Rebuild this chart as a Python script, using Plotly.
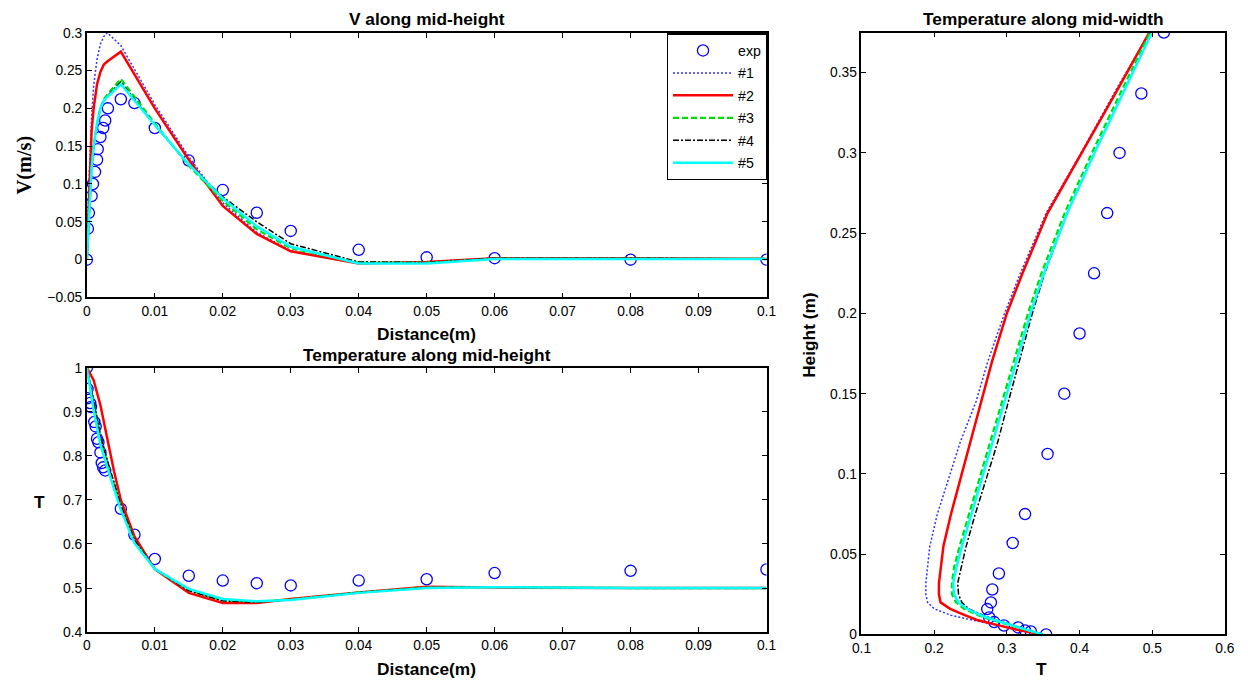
import plotly.graph_objects as go

# ---------------- data: V along mid-height ----------------
v_exp_x = [0, 0.00015, 0.0003, 0.0007, 0.0009, 0.0012, 0.0015, 0.0016, 0.002, 0.0024, 0.0027, 0.0031,
           0.005, 0.007, 0.01, 0.015, 0.02, 0.025, 0.03, 0.04, 0.05, 0.06, 0.08, 0.1]
v_exp_y = [0, 0.041, 0.062, 0.084, 0.100, 0.116, 0.132, 0.146, 0.162, 0.174, 0.184, 0.200,
           0.212, 0.207, 0.174, 0.131, 0.092, 0.062, 0.038, 0.013, 0.003, 0.002, 0.0, 0.0]
v_sim_x = [0, 0.0003, 0.0007, 0.001, 0.0015, 0.002, 0.0025, 0.003, 0.005, 0.01, 0.015, 0.02,
           0.025, 0.03, 0.04, 0.05, 0.06, 0.08, 0.1]
v_1 = [0, 0.10, 0.19, 0.23, 0.265, 0.285, 0.295, 0.300, 0.283, 0.205, 0.136, 0.075, 0.036, 0.012, -0.004, -0.003, 0.002, 0.002, 0.001]
v_2 = [0, 0.08, 0.17, 0.20, 0.232, 0.248, 0.258, 0.262, 0.275, 0.200, 0.132, 0.071, 0.034, 0.011, -0.005, -0.003, 0.002, 0.002, 0.001]
v_3 = [0, 0.06, 0.12, 0.15, 0.18, 0.20, 0.212, 0.218, 0.239, 0.180, 0.124, 0.078, 0.040, 0.015, -0.004, -0.004, 0.001, 0.001, 0.001]
v_4 = [0, 0.06, 0.12, 0.15, 0.18, 0.20, 0.210, 0.216, 0.235, 0.178, 0.126, 0.083, 0.050, 0.021, -0.003, -0.004, 0.002, 0.002, 0.001]
v_5 = [0, 0.06, 0.12, 0.15, 0.18, 0.20, 0.210, 0.215, 0.232, 0.178, 0.126, 0.081, 0.044, 0.017, -0.005, -0.005, 0.001, 0.001, 0.001]

# ---------------- data: Temperature along mid-height ----------------
t_exp_x = [0, 0.0001, 0.0001, 0.0005, 0.0006, 0.0011, 0.0013, 0.0015, 0.0017, 0.002, 0.0022, 0.0024, 0.0027,
           0.005, 0.007, 0.01, 0.015, 0.02, 0.025, 0.03, 0.04, 0.05, 0.06, 0.08, 0.1]
t_exp_y = [1.0, 0.952, 0.931, 0.920, 0.911, 0.877, 0.867, 0.839, 0.831, 0.808, 0.784, 0.774, 0.767,
           0.680, 0.621, 0.566, 0.528, 0.517, 0.511, 0.506, 0.517, 0.520, 0.534, 0.539, 0.542]
t_sim_x = [0, 0.001, 0.002, 0.003, 0.004, 0.005, 0.007, 0.01, 0.015, 0.02, 0.025, 0.03, 0.04, 0.05, 0.06, 0.08, 0.1]
t_1 = [1.0, 0.930, 0.850, 0.790, 0.740, 0.690, 0.610, 0.545, 0.495, 0.471, 0.468, 0.474, 0.490, 0.502, 0.502, 0.500, 0.500]
t_2 = [1.0, 0.972, 0.915, 0.840, 0.765, 0.700, 0.617, 0.543, 0.489, 0.466, 0.466, 0.475, 0.490, 0.503, 0.501, 0.500, 0.500]
t_3 = [1.0, 0.920, 0.840, 0.785, 0.735, 0.685, 0.607, 0.543, 0.495, 0.472, 0.469, 0.474, 0.490, 0.501, 0.502, 0.500, 0.500]
t_4 = [1.0, 0.925, 0.845, 0.790, 0.737, 0.688, 0.609, 0.543, 0.494, 0.471, 0.468, 0.474, 0.490, 0.501, 0.502, 0.500, 0.500]
t_5 = [1.0, 0.905, 0.825, 0.774, 0.725, 0.678, 0.602, 0.543, 0.498, 0.475, 0.470, 0.473, 0.489, 0.500, 0.502, 0.500, 0.500]

# ---------------- data: Temperature along mid-width ----------------
w_exp_t = [0.516, 0.485, 0.455, 0.438, 0.420, 0.400, 0.379, 0.356, 0.325, 0.308, 0.289, 0.280, 0.278,
           0.273, 0.2757, 0.2825, 0.296, 0.3155, 0.325, 0.333, 0.354]
w_exp_h = [0.375, 0.337, 0.300, 0.2625, 0.225, 0.1875, 0.150, 0.1125, 0.075, 0.057, 0.038, 0.028, 0.020,
           0.0158, 0.0106, 0.0077, 0.0056, 0.0044, 0.0025, 0.0019, 0.0]
w_sim_h = [0, 0.003, 0.006, 0.009, 0.012, 0.016, 0.02, 0.025, 0.032, 0.042, 0.055, 0.075, 0.1, 0.12,
           0.145, 0.17, 0.2, 0.225, 0.2625, 0.3, 0.34, 0.375]
w_1 = [0.349, 0.316, 0.283, 0.252, 0.223, 0.200, 0.191, 0.1885, 0.1885, 0.1905, 0.194, 0.2043, 0.222, 0.236,
       0.2575, 0.2737, 0.2968, 0.3185, 0.354, 0.402, 0.451, 0.496]
w_2 = [0.349, 0.314, 0.286, 0.259, 0.242, 0.222, 0.2088, 0.2065, 0.2066, 0.2092, 0.2127, 0.2231, 0.2378, 0.2496,
       0.2638, 0.2795, 0.2999, 0.3215, 0.356, 0.4035, 0.453, 0.496]
w_3 = [0.349, 0.325, 0.301, 0.279, 0.260, 0.241, 0.230, 0.2245, 0.2243, 0.2275, 0.235, 0.248, 0.264, 0.277,
       0.2935, 0.3095, 0.329, 0.3475, 0.3795, 0.417, 0.459, 0.497]
w_4 = [0.349, 0.328, 0.304, 0.285, 0.267, 0.2475, 0.238, 0.2335, 0.2323, 0.237, 0.244, 0.2565, 0.2735, 0.2875,
       0.302, 0.317, 0.335, 0.352, 0.383, 0.4205, 0.4625, 0.4995]
w_5 = [0.349, 0.326, 0.303, 0.283, 0.264, 0.245, 0.2335, 0.2273, 0.2262, 0.2305, 0.2382, 0.2512, 0.2675, 0.2805,
       0.297, 0.313, 0.3325, 0.351, 0.383, 0.4205, 0.4625, 0.4995]

names = ["#1", "#2", "#3", "#4", "#5"]

# ---------------- styles ----------------
FONT = "Liberation Sans, Arial, sans-serif"
styles = [
    dict(color="#3030ff", width=1.5, dash="2px,2px"),
    dict(color="#ff0000", width=2.5, dash="solid"),
    dict(color="#00dd00", width=2.2, dash="6px,3px"),
    dict(color="#000000", width=1.5, dash="6px,2px,2px,2px"),
    dict(color="#00ffff", width=2.5, dash="solid"),
]
marker = dict(symbol="circle-open", size=11.2, color="#0000ff", line=dict(width=1.3, color="#0000ff"))

fig = go.Figure()

# top-left
fig.add_trace(go.Scatter(x=v_exp_x, y=v_exp_y, mode="markers", marker=marker, name="exp",
                         xaxis="x", yaxis="y", legendgroup="g0"))
for i, ys in enumerate([v_1, v_2, v_3, v_4, v_5]):
    fig.add_trace(go.Scatter(x=v_sim_x, y=ys, mode="lines", line=styles[i], name=names[i],
                             xaxis="x", yaxis="y", legendgroup="g%d" % (i + 1)))
# bottom-left
fig.add_trace(go.Scatter(x=t_exp_x, y=t_exp_y, mode="markers", marker=marker, showlegend=False,
                         xaxis="x2", yaxis="y2"))
for i, ys in enumerate([t_1, t_2, t_3, t_4, t_5]):
    fig.add_trace(go.Scatter(x=t_sim_x, y=ys, mode="lines", line=styles[i], showlegend=False,
                             xaxis="x2", yaxis="y2"))
# right
fig.add_trace(go.Scatter(x=w_exp_t, y=w_exp_h, mode="markers", marker=marker, showlegend=False,
                         xaxis="x3", yaxis="y3"))
for i, xs in enumerate([w_1, w_2, w_3, w_4, w_5]):
    fig.add_trace(go.Scatter(x=xs, y=w_sim_h, mode="lines", line=styles[i], showlegend=False,
                             xaxis="x3", yaxis="y3"))

# layout positions are given in target-picture pixels and converted to paper fractions,
# compensating for the page's 8px body margin
W, H = 1248, 682
OFF = 8
SX, SY = (W + 2 * OFF) / W, (H + 2 * OFF) / H


def px(x):
    return (x * SX - OFF) / W


def py(y):
    return 1 - (y * SY - OFF) / H


def axis(domain, rng, dtick, anchor, tick0=0):
    return dict(domain=domain, range=rng, dtick=dtick, tick0=tick0, anchor=anchor,
                showgrid=False, zeroline=False, showline=True, linecolor="black", linewidth=1.6,
                mirror="ticks", ticks="inside", ticklen=5, tickwidth=1, tickcolor="black",
                tickfont=dict(family=FONT, size=13.8, color="black"))


xl = [px(85), px(767)]
fig.update_layout(
    width=W, height=H,
    margin=dict(l=0, r=0, t=0, b=0),
    paper_bgcolor="white", plot_bgcolor="white",
    xaxis=axis(xl, [0, 0.1], 0.01, "y"),
    yaxis=axis([py(298), py(33.5)], [-0.05, 0.3], 0.05, "x"),
    xaxis2=axis(xl, [0, 0.1], 0.01, "y2"),
    yaxis2=axis([py(632.3), py(368.3)], [0.4, 1.0], 0.1, "x2"),
    xaxis3=axis([px(862.3), px(1227)], [0.1, 0.6], 0.1, "y3"),
    yaxis3=axis([py(634.7), py(33.3)], [0, 0.375], 0.05, "x3"),
    showlegend=True,
    legend=dict(x=px(768), y=py(34), xanchor="right", yanchor="top",
                bgcolor="white", bordercolor="black", borderwidth=1.5,
                font=dict(family=FONT, size=14.2, color="black"),
                traceorder="grouped", tracegroupgap=1, itemwidth=60),
)

ann = []


def text(x, y, s, size=17.3, angle=0, family=FONT):
    ann.append(dict(x=px(x), y=py(y), xref="paper", yref="paper", text="<b>%s</b>" % s,
                    showarrow=False, textangle=angle, xanchor="center", yanchor="middle",
                    font=dict(family=family, size=size, color="black")))


text(426, 20, "V along mid-height")
text(426, 335, "Distance(m)")
text(22, 166, "V(m/s)", size=20.3, angle=-90, family="Liberation Serif, Times New Roman, serif")
text(426, 355, "Temperature along mid-height")
text(426, 669, "Distance(m)")
text(38, 502, "T")
text(1045, 20, "Temperature along mid-width")
text(1043, 669, "T")
text(810, 336, "Height (m)", angle=-90)
fig.update_layout(annotations=ann)

fig.write_html("out.html")
